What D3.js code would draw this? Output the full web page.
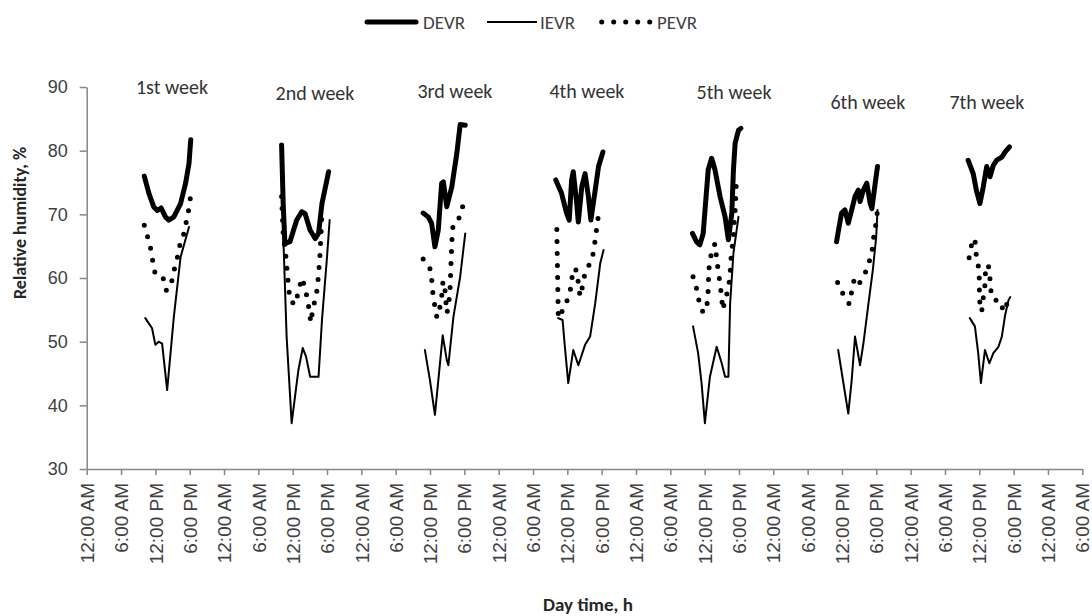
<!DOCTYPE html>
<html>
<head>
<meta charset="utf-8">
<script src="https://cdn.jsdelivr.net/npm/d3@7"></script>
<style>
  html, body { margin: 0; padding: 0; background: #fff; }
  svg { display: block; font-family: Carlito, Lato, sans-serif; }
</style>
</head>
<body>
<svg id="chart" width="1092" height="616"></svg>
<script>
// ---------------- DATA ----------------
const weeks = ["1st week", "2nd week", "3rd week", "4th week", "5th week", "6th week", "7th week"];
const seriesNames = ["DEVR", "IEVR", "PEVR"];
const timeLabels = ["12:00 AM", "6:00 AM", "12:00 PM", "6:00 PM"];
const yTicks = [30, 40, 50, 60, 70, 80, 90];
const totalHours = 174;           // axis runs 12:00 AM day 1 -> 6:00 AM day 8
const tickStepHours = 6;

// label anchors in data units (hour of day, RH %)
const weekLabelHour = [14.91, 15.9, 16.36, 15.43, 17.13, 16.53, 13.33];
const weekLabelRH   = [88.9, 88.0, 88.3, 88.3, 88.1, 86.6, 86.6];

// each week: [hour of day, relative humidity %]
const DEVR = [
  [[10.06,76.0],[10.9,73.2],[11.7,71.2],[12.35,70.6],[13.0,71.0],[13.76,69.6],[14.35,69.1],[15.23,69.6],[16.41,71.7],[17.29,74.9],[17.88,78.0],[18.18,81.7]],
  [[10.06,80.9],[10.34,71.7],[10.64,65.4],[11.52,65.7],[12.7,69.1],[13.59,70.4],[14.17,70.1],[15.05,67.5],[15.93,66.2],[16.52,67.0],[17.12,71.7],[18.28,76.7]],
  [[10.8,70.2],[11.68,69.6],[12.28,68.6],[12.86,64.9],[13.44,67.5],[14.04,74.9],[14.33,75.1],[14.93,71.2],[15.81,74.3],[16.69,79.6],[17.27,84.1],[18.16,84.0]],
  [[9.98,75.4],[10.99,73.3],[11.87,70.2],[12.33,69.1],[12.75,75.4],[13.04,76.7],[13.64,71.7],[13.92,68.8],[14.52,74.3],[15.1,76.4],[15.68,72.8],[16.11,69.1],[16.87,73.8],[17.45,77.5],[18.22,79.8]],
  [[9.87,67.0],[10.57,65.7],[11.16,65.2],[11.74,67.0],[12.62,77.0],[13.22,78.8],[13.8,77.0],[14.69,72.8],[15.57,69.6],[16.15,66.0],[16.75,70.2],[17.03,77.0],[17.33,81.2],[17.91,83.2],[18.34,83.5]],
  [[11.05,65.7],[11.51,68.1],[11.93,70.2],[12.51,70.7],[13.1,68.6],[13.7,70.7],[14.28,72.8],[14.86,73.8],[15.16,72.0],[15.74,73.8],[16.34,74.9],[16.93,71.7],[17.23,70.9],[17.81,74.9],[18.21,77.5]],
  [[10.04,78.5],[10.93,76.4],[11.53,73.6],[12.11,71.7],[12.69,74.3],[13.29,77.5],[13.87,75.9],[14.45,77.7],[15.05,78.5],[15.94,79.0],[16.52,79.8],[17.28,80.6]]
];
const IEVR = [
  [[10.24,53.7],[11.42,52.1],[12.0,49.5],[12.58,50.0],[13.18,49.7],[14.06,42.4],[15.23,53.9],[16.41,63.3],[17.88,68.0]],
  [[10.34,67.0],[10.94,50.8],[11.82,37.2],[12.99,45.5],[13.76,49.0],[14.35,47.6],[15.05,44.5],[16.52,44.5],[17.12,53.4],[18.0,63.3],[18.46,69.1]],
  [[11.1,48.7],[11.98,44.0],[12.86,38.5],[13.74,46.6],[14.22,51.0],[14.93,47.1],[15.21,46.3],[16.09,53.9],[17.27,60.2],[18.16,67.0]],
  [[10.39,53.7],[11.17,53.4],[11.57,49.2],[12.16,43.5],[13.04,48.7],[13.92,46.3],[15.1,49.5],[15.98,50.8],[16.87,56.0],[17.75,62.3],[18.33,64.4]],
  [[9.97,52.4],[10.86,48.2],[11.46,43.5],[12.04,37.2],[12.92,44.5],[14.1,49.2],[14.98,46.6],[15.57,44.5],[16.15,44.5],[16.45,56.0],[17.03,63.9],[17.91,69.6]],
  [[11.33,48.7],[12.21,43.7],[13.1,38.7],[13.7,44.0],[14.28,50.8],[15.16,46.3],[15.74,49.7],[16.63,56.0],[17.4,61.3],[17.98,66.5],[18.21,70.7]],
  [[10.34,53.7],[11.23,52.4],[11.81,48.2],[12.28,43.5],[12.99,48.7],[13.75,46.6],[14.45,48.2],[15.34,49.2],[15.94,50.8],[16.52,54.2],[17.1,56.5],[17.4,57.0]]
];
const PEVR = [
  [[10.06,68.3],[10.64,66.5],[11.24,64.4],[11.59,62.4],[12.0,60.5],[13.36,60.0],[13.94,58.0],[14.82,59.3],[15.23,61.1],[15.83,63.1],[16.29,65.2],[16.99,67.0],[17.47,69.1],[17.88,71.0],[18.18,73.0]],
  [[10.06,72.8],[10.34,67.0],[10.82,63.3],[11.22,59.2],[11.52,56.5],[12.41,55.8],[12.99,57.8],[13.59,60.0],[14.17,58.5],[14.7,56.0],[15.18,53.0],[15.58,55.5],[16.11,57.0],[16.46,60.0],[16.73,63.0],[16.9,66.0],[17.08,69.5]],
  [[10.8,63.0],[11.98,61.5],[12.33,59.5],[12.51,57.5],[12.86,55.5],[13.21,53.8],[13.74,55.5],[14.1,57.5],[14.27,59.5],[14.63,58.0],[14.8,56.0],[14.98,54.5],[15.33,56.5],[15.51,58.5],[15.68,62.5],[15.86,66.5],[16.04,68.5],[17.27,69.6],[17.63,71.0],[18.16,72.5]],
  [[10.16,67.6],[10.42,53.7],[11.57,55.5],[12.46,57.7],[13.04,61.5],[13.64,61.2],[14.22,57.1],[14.8,59.2],[15.1,61.0],[15.98,62.3],[16.57,64.0],[17.16,68.0],[17.45,70.0]],
  [[9.97,60.2],[10.57,58.4],[11.03,56.3],[11.74,54.5],[12.44,56.0],[12.62,58.1],[12.68,60.0],[12.8,62.0],[13.22,64.1],[13.8,65.4],[14.1,63.1],[14.39,61.0],[14.69,59.2],[14.98,56.8],[15.16,55.0],[15.57,56.5],[16.15,58.4],[16.45,60.5],[16.54,62.4],[16.75,64.4],[17.03,66.5],[17.15,68.6],[17.33,70.7],[17.42,72.5],[17.51,74.6]],
  [[11.23,59.3],[12.21,57.4],[13.27,55.9],[13.7,57.9],[14.16,59.9],[14.86,59.0],[15.74,60.0],[16.52,61.9],[17.23,63.9],[17.4,65.7],[17.81,67.8],[18.11,69.6],[18.21,71.2]],
  [[10.22,63.2],[10.64,65.2],[11.23,66.2],[11.4,64.0],[11.81,62.0],[11.99,60.0],[12.02,57.8],[12.11,55.8],[12.41,54.7],[12.69,56.9],[12.99,58.9],[13.08,61.0],[13.57,62.1],[13.87,59.8],[14.0,58.1],[14.58,56.5],[15.64,56.5],[16.22,54.7],[17.1,56.5]]
];

// ---------------- LAYOUT / STYLE ----------------
const mLeft = 86.7, mRight = 1082.3, mTop = 87, mBottom = 469;
const textColor = "#404040";
const axisColor = "#868686";

const svg = d3.select("#chart");
svg.append("rect").attr("width", 1092).attr("height", 616).attr("fill", "#fff");

const x = d3.scaleLinear().domain([0, totalHours]).range([mLeft, mRight]);
const y = d3.scaleLinear().domain([30, 90]).range([mBottom, mTop]);

// Y axis
const yAxis = svg.append("g").attr("transform", `translate(${mLeft},0)`)
  .call(d3.axisLeft(y).tickValues(yTicks).tickSize(7).tickSizeOuter(0).tickPadding(12));
yAxis.select(".domain").attr("stroke", axisColor).attr("stroke-width", 1.5);
yAxis.selectAll(".tick line").attr("stroke", axisColor).attr("stroke-width", 1.5);
yAxis.selectAll(".tick text").attr("fill", textColor).style("font-size", "18px");

// X axis
const xAxis = svg.append("g").attr("transform", `translate(0,${mBottom})`)
  .call(d3.axisBottom(x)
    .tickValues(d3.range(0, totalHours + 1, tickStepHours))
    .tickFormat(h => timeLabels[(h / tickStepHours) % 4])
    .tickSize(6).tickSizeOuter(0));
xAxis.select(".domain").attr("stroke", axisColor).attr("stroke-width", 1.5);
xAxis.selectAll(".tick line").attr("stroke", axisColor).attr("stroke-width", 1.5);
xAxis.selectAll(".tick text")
  .attr("fill", textColor).style("font-size", "19px")
  .attr("transform", "rotate(-90)")
  .attr("text-anchor", "end")
  .attr("x", -14).attr("y", 0).attr("dy", "0.35em");

// axis titles
svg.append("text")
  .attr("transform", `translate(20,223) rotate(-90)`)
  .attr("text-anchor", "middle").attr("dy", "0.35em")
  .attr("fill", "#262626").style("font-size", "18px").style("font-weight", "bold")
  .text("Relative humidity, %");
svg.append("text")
  .attr("x", 588).attr("y", 611)
  .attr("text-anchor", "middle")
  .attr("fill", "#262626").style("font-size", "19px").style("font-weight", "bold")
  .text("Day time, h");

// series
const styles = {
  DEVR: { width: 5, dash: null },
  IEVR: { width: 2, dash: null },
  PEVR: { width: 5, dash: "0 12" }
};
const seriesData = { DEVR, IEVR, PEVR };

weeks.forEach((wk, wi) => {
  const line = d3.line()
    .x(d => x(wi * 24 + d[0]))
    .y(d => y(d[1]));
  ["PEVR", "IEVR", "DEVR"].forEach(name => {
    const st = styles[name];
    svg.append("path")
      .datum(seriesData[name][wi])
      .attr("d", line)
      .attr("fill", "none")
      .attr("stroke", "#000")
      .attr("stroke-width", st.width)
      .attr("stroke-linejoin", "round")
      .attr("stroke-linecap", "round")
      .attr("stroke-dasharray", st.dash);
  });
  svg.append("text")
    .attr("x", x(wi * 24 + weekLabelHour[wi]))
    .attr("y", y(weekLabelRH[wi]))
    .attr("text-anchor", "middle")
    .attr("fill", "#333")
    .style("font-size", "20px")
    .text(wk);
});

// legend
const legendY = 22;
const legendItems = [
  { name: "DEVR", x1: 367, x2: 416, tx: 423 },
  { name: "IEVR", x1: 487, x2: 537, tx: 540 },
  { name: "PEVR", x1: 601.7, x2: 650, tx: 657 }
];
legendItems.forEach(it => {
  const st = styles[it.name];
  svg.append("path")
    .attr("d", `M${it.x1},${legendY}H${it.x2}`)
    .attr("stroke", "#000")
    .attr("stroke-width", st.width)
    .attr("stroke-linecap", it.name === "IEVR" ? "butt" : "round")
    .attr("stroke-dasharray", st.dash);
  svg.append("text")
    .attr("x", it.tx).attr("y", legendY).attr("dy", "0.35em")
    .attr("fill", textColor).style("font-size", "19px")
    .text(it.name);
});
</script>
</body>
</html>
